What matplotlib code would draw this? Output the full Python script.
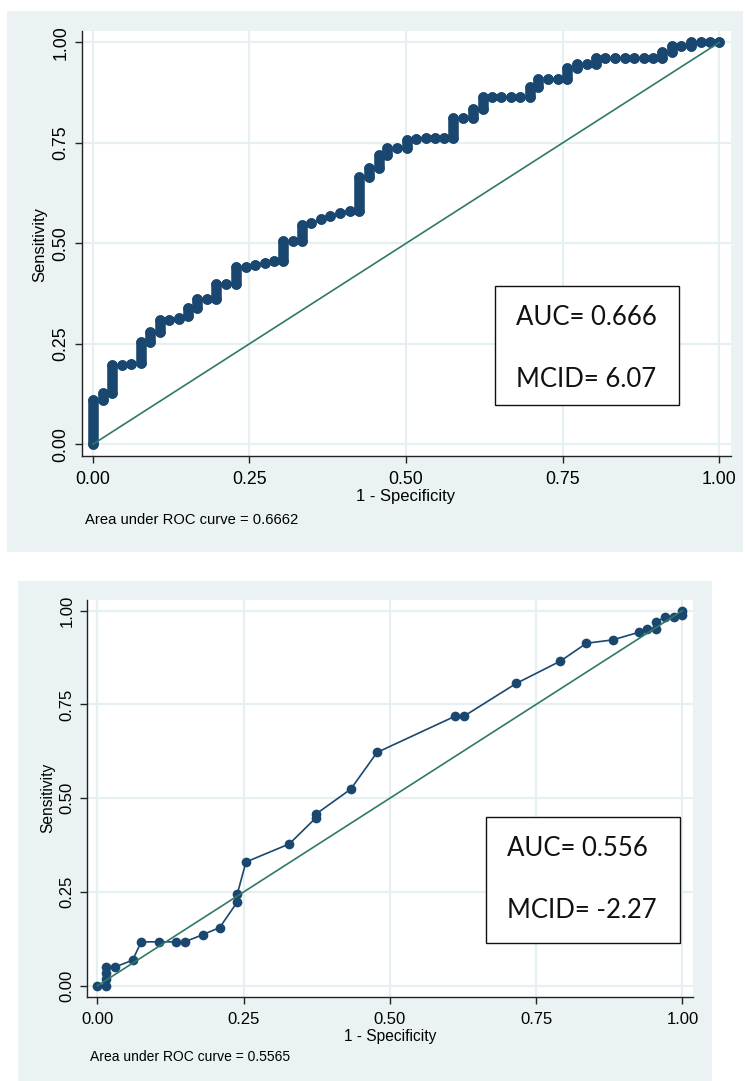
import matplotlib
matplotlib.use("Agg")
import matplotlib.pyplot as plt
from matplotlib.patches import Rectangle

# ---------------- data ----------------
tick_vals = [0.0, 0.25, 0.5, 0.75, 1.0]
tick_labels = ["0.00", "0.25", "0.50", "0.75", "1.00"]

# top ROC: one column per false-positive step, with sensitivity range in that column
top_fpr = [0.000, 0.016, 0.031, 0.046, 0.061, 0.077, 0.092, 0.107, 0.121, 0.137,
           0.152, 0.167, 0.182, 0.197, 0.213, 0.228, 0.244, 0.259, 0.274, 0.289,
           0.304, 0.320, 0.334, 0.349, 0.364, 0.379, 0.394, 0.410, 0.425, 0.440,
           0.456, 0.470, 0.485, 0.501, 0.516, 0.531, 0.546, 0.561, 0.575, 0.591,
           0.606, 0.622, 0.637, 0.652, 0.667, 0.682, 0.697, 0.711, 0.727, 0.742,
           0.757, 0.772, 0.788, 0.803, 0.818, 0.834, 0.849, 0.864, 0.879, 0.894,
           0.909, 0.924, 0.939, 0.955, 0.970, 0.985, 1.000]
top_sens_lo = [0.000, 0.110, 0.127, 0.197, 0.200, 0.201, 0.255, 0.280, 0.310, 0.312,
               0.318, 0.340, 0.362, 0.362, 0.400, 0.400, 0.440, 0.445, 0.452, 0.455,
               0.455, 0.505, 0.505, 0.550, 0.560, 0.568, 0.576, 0.580, 0.580, 0.666,
               0.687, 0.720, 0.736, 0.736, 0.760, 0.763, 0.763, 0.763, 0.763, 0.811,
               0.811, 0.835, 0.865, 0.865, 0.865, 0.865, 0.865, 0.888, 0.910, 0.910,
               0.910, 0.935, 0.945, 0.945, 0.962, 0.962, 0.962, 0.962, 0.962, 0.962,
               0.962, 0.975, 0.990, 0.990, 1.000, 1.000, 1.000]
top_sens_hi = [0.110, 0.127, 0.197, 0.197, 0.200, 0.255, 0.280, 0.310, 0.310, 0.315,
               0.340, 0.362, 0.362, 0.400, 0.400, 0.440, 0.440, 0.445, 0.452, 0.455,
               0.505, 0.505, 0.545, 0.550, 0.560, 0.568, 0.576, 0.580, 0.666, 0.687,
               0.720, 0.736, 0.736, 0.757, 0.760, 0.763, 0.763, 0.763, 0.811, 0.811,
               0.835, 0.865, 0.865, 0.865, 0.865, 0.865, 0.888, 0.910, 0.910, 0.910,
               0.935, 0.945, 0.945, 0.962, 0.962, 0.962, 0.962, 0.962, 0.962, 0.962,
               0.975, 0.990, 0.990, 1.000, 1.000, 1.000, 1.000]

# bottom ROC points
bot_fpr = [0.000, 0.015, 0.015, 0.015, 0.015, 0.030, 0.060, 0.075, 0.105, 0.134,
           0.149, 0.180, 0.209, 0.239, 0.239, 0.254, 0.328, 0.373, 0.373, 0.433,
           0.478, 0.612, 0.627, 0.716, 0.791, 0.836, 0.881, 0.925, 0.940, 0.955,
           0.955, 0.970, 0.985, 1.000, 1.000]
bot_sens = [0.000, 0.000, 0.017, 0.034, 0.050, 0.050, 0.068, 0.117, 0.117, 0.117,
            0.117, 0.136, 0.155, 0.223, 0.244, 0.330, 0.378, 0.447, 0.457, 0.524,
            0.622, 0.719, 0.719, 0.806, 0.865, 0.913, 0.922, 0.942, 0.950, 0.952,
            0.970, 0.982, 0.982, 0.989, 1.000]

top_area_text = "Area under ROC curve = 0.6662"
bot_area_text = "Area under ROC curve = 0.5565"
top_box = ["AUC= 0.666", "MCID= 6.07"]
bot_box = ["AUC= 0.556", "MCID= -2.27"]
xlabel = "1 - Specificity"
ylabel = "Sensitivity"

# ---------------- style ----------------
NAVY = "#1a476f"
GREEN = "#2e7a66"
BG = "#eaf2f3"
GRID = "#e6eff1"
W, H = 745, 1081
SANS = ["Liberation Sans", "DejaVu Sans"]
BOXFONT = ["Lato", "DejaVu Sans"]

fig = plt.figure(figsize=(W / 100, H / 100), dpi=100)
fig.patch.set_facecolor("white")


def fx(x):
    return x / W


def fy(y):
    return 1 - y / H


def bg_rect(x0, y0, x1, y1):
    fig.add_artist(Rectangle((fx(x0), fy(y1)), (x1 - x0) / W, (y1 - y0) / H,
                             transform=fig.transFigure, facecolor=BG,
                             edgecolor="none", zorder=-5))


def make_axes(l, t, r, b, ticksize):
    ax = fig.add_axes([fx(l), fy(b), (r - l) / W, (b - t) / H])
    ax.set_facecolor("white")
    ax.set_xlim(-0.0178, 1.0186)
    ax.set_ylim(-0.0292, 1.0283)
    for s in ["top", "right"]:
        ax.spines[s].set_visible(False)
    for s in ["left", "bottom"]:
        ax.spines[s].set_color("#222222")
        ax.spines[s].set_linewidth(1.0)
    ax.set_xticks(tick_vals)
    ax.set_xticklabels(tick_labels)
    ax.set_yticks(tick_vals)
    ax.set_yticklabels(tick_labels)
    ax.tick_params(axis="both", direction="out", length=5, width=1,
                   color="#222222", labelsize=ticksize)
    ax.tick_params(axis="x", pad=6)
    ax.tick_params(axis="y", pad=4, labelrotation=90)
    for lab in ax.get_yticklabels():
        lab.set_va("center")
        lab.set_family(SANS)
    for lab in ax.get_xticklabels():
        lab.set_family(SANS)
    ax.grid(True, color=GRID, linewidth=1.6, zorder=0)
    ax.set_axisbelow(True)
    return ax


def box(x0, y0, x1, y1, lines, tx, baselines, size):
    fig.add_artist(Rectangle((fx(x0), fy(y1)), (x1 - x0) / W, (y1 - y0) / H,
                             transform=fig.transFigure, facecolor="white",
                             edgecolor="#111111", linewidth=1.0, zorder=5))
    for txt, yb in zip(lines, baselines):
        fig.text(fx(tx), fy(yb), txt, ha="left", va="baseline", fontsize=size,
                 family=BOXFONT, color="#111111", zorder=6)


# ---------------- top panel ----------------
bg_rect(7, 11, 743, 552)
ax1 = make_axes(81.7, 31, 731, 456, 12.8)

# staircase path
path_x, path_y = [], []
for f, lo, hi in zip(top_fpr, top_sens_lo, top_sens_hi):
    path_x += [f, f]
    path_y += [lo, hi]
ax1.plot(path_x, path_y, "-", color=NAVY, lw=1.0, zorder=3)
vl = ax1.vlines(top_fpr, top_sens_lo, top_sens_hi, colors=NAVY, linewidth=7.6,
                zorder=3)
vl.set_capstyle("round")
ax1.plot(path_x, path_y, "o", color=NAVY, markersize=7.6, markeredgewidth=0,
         zorder=3)
ax1.plot([0, 1], [0, 1], "-", color=GREEN, lw=1.2, zorder=4)

fig.text(fx(406), fy(497), xlabel, ha="center", va="center", fontsize=12,
         family=SANS)
fig.text(fx(40), fy(244), ylabel, ha="center", va="center", rotation=90,
         fontsize=12, family=SANS)
fig.text(fx(85), fy(520), top_area_text, ha="left", va="center",
         fontsize=10.6, family=SANS)
box(494.7, 285.7, 679.3, 405, top_box, 516, [325, 386.7], 18.5)

# ---------------- bottom panel ----------------
bg_rect(18, 581, 712, 1081)
ax2 = make_axes(87, 600, 693.3, 996.7, 12.0)
ax2.plot(bot_fpr, bot_sens, "-", color=NAVY, lw=1.2, zorder=3)
ax2.plot(bot_fpr, bot_sens, "o", color=NAVY, markersize=7.0, markeredgewidth=0,
         zorder=3)
ax2.plot([0, 1], [0, 1], "-", color=GREEN, lw=1.2, zorder=4)

fig.text(fx(390), fy(1036), xlabel, ha="center", va="center", fontsize=11.2,
         family=SANS)
fig.text(fx(48), fy(798), ylabel, ha="center", va="center", rotation=90,
         fontsize=11.2, family=SANS)
fig.text(fx(90), fy(1057), bot_area_text, ha="left", va="center",
         fontsize=10, family=SANS)
box(486, 817.3, 680, 942.7, bot_box, 507.3, [856, 918.3], 18.5)

fig.savefig("out.png", dpi=100, facecolor="white")
